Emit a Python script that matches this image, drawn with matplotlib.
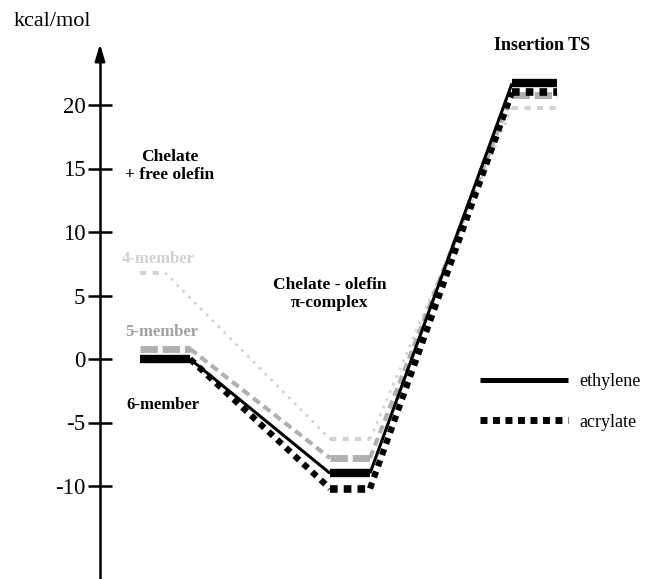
import matplotlib
matplotlib.use("Agg")
import matplotlib.pyplot as plt
from matplotlib.lines import Line2D

# ---- data (kcal/mol) ----
states = ["Chelate\n+ free olefin", "Chelate - olefin\nπ-complex", "Insertion TS"]
ethylene = [0.0, -9.0, 21.7]      # 6-member, ethylene
acrylate = [0.0, -10.2, 21.0]     # 6-member, acrylate
member5 = [0.8, -7.8, 20.8]       # 5-member (faded)
member4 = [6.8, -6.3, 19.8]       # 4-member (very faded)
yticks = [-10, -5, 0, 5, 10, 15, 20]
series_labels = ["ethylene", "acrylate"]
ring_labels = ["4-member", "5-member", "6-member"]

# ---- layout ----
W, H = 645, 579
X0, SX = 140, 50.0     # pixel of reaction coordinate 0, px per unit
Y0, SY = 359, 12.7     # pixel of 0 kcal, px per kcal
spans = [(0.0, 1.0), (3.8, 4.6), (7.44, 8.34)]
spans4 = [(0.0, 0.5), (3.8, 4.6), (7.44, 8.34)]
AXIS_X = (100 - X0) / SX

SERIF = ["Liberation Serif", "DejaVu Serif"]

fig = plt.figure(figsize=(W / 100, H / 100), dpi=100)
ax = fig.add_axes([0, 0, 1, 1])
ax.set_xlim(-X0 / SX, (W - X0) / SX)
ax.set_ylim(-(H - Y0) / SY, Y0 / SY)


def P(x, y):
    return x / W, 1 - y / H


def profile(vals, color, lw_plat, lw_link, ls_plat, ls_link, z, alpha=1.0, spn=spans):
    for (a, b), v in zip(spn, vals):
        ax.plot([a, b], [v, v], color=color, lw=lw_plat, ls=ls_plat,
                solid_capstyle="butt", dash_capstyle="butt", zorder=z, alpha=alpha)
    for i in range(len(vals) - 1):
        ax.plot([spn[i][1], spn[i + 1][0]], [vals[i], vals[i + 1]], color=color,
                lw=lw_link, ls=ls_link, solid_capstyle="butt", dash_capstyle="butt",
                zorder=z, alpha=alpha)


profile(member4, "#cfcfcf", 3.0, 2.0, (0, (1.5, 1.5)), (0, (1, 2)), 1, 0.9, spans4)
profile(member5, "#a3a3a3", 5.0, 3.0, (0, (2.5, 0.7)), (0, (2, 1.2)), 2, 0.85)
profile(acrylate, "black", 5.5, 4.5, (0, (1, 0.8)), (0, (1, 0.9)), 3)
profile(ethylene, "black", 6.0, 2.2, "-", "-", 4)

# ---- y axis with arrow ----
for s in ["top", "right", "bottom"]:
    ax.spines[s].set_visible(False)
ax.spines["left"].set_position(("data", AXIS_X))
ax.spines["left"].set_linewidth(1.8)
ax.spines["left"].set_bounds(-(H - Y0) / SY, (Y0 - 60) / SY)
ax.set_xticks([])
ax.set_yticks(yticks)
ax.set_yticklabels([str(t) for t in yticks], fontfamily=SERIF, fontsize=16.5)
ax.tick_params(axis="y", direction="inout", length=17, width=1.8, pad=2)
ax.annotate("", xy=(AXIS_X, (Y0 - 44) / SY), xytext=(AXIS_X, (Y0 - 62) / SY),
            arrowprops=dict(arrowstyle="-|>,head_length=1.0,head_width=0.3",
                            color="black", lw=1.8, shrinkA=0, shrinkB=0))

# ---- texts ----
fig.text(*P(52, 22), "kcal/mol", fontfamily=SERIF, fontsize=16, ha="center", va="center")
fig.text(*P(170, 166), states[0], fontfamily=SERIF, fontsize=12.5, fontweight="bold",
         ha="center", va="center", linespacing=1.15)
fig.text(*P(330, 294), states[1], fontfamily=SERIF, fontsize=12.5, fontweight="bold",
         ha="center", va="center", linespacing=1.15)
fig.text(*P(542, 45), states[2], fontfamily=SERIF, fontsize=13, fontweight="bold",
         ha="center", va="center")
fig.text(*P(158, 259), ring_labels[0], fontfamily=SERIF, fontsize=12, fontweight="bold",
         ha="center", va="center", color="#d0d0d0")
fig.text(*P(162, 332), ring_labels[1], fontfamily=SERIF, fontsize=12, fontweight="bold",
         ha="center", va="center", color="#a0a0a0")
fig.text(*P(163, 405), ring_labels[2], fontfamily=SERIF, fontsize=12, fontweight="bold",
         ha="center", va="center", color="black")

# ---- legend ----
handles = [Line2D([], [], color="black", lw=3.6, solid_capstyle="butt"),
           Line2D([], [], color="black", lw=5, ls=(0, (1, 0.8)), dash_capstyle="butt")]
leg = fig.legend(handles, series_labels, loc="center left", bbox_to_anchor=P(480, 402),
                 frameon=False, borderpad=0, borderaxespad=0, handlelength=4.9,
                 handletextpad=0.6, labelspacing=1.3,
                 prop={"family": SERIF, "size": 13})

fig.savefig("out.png", dpi=100)
